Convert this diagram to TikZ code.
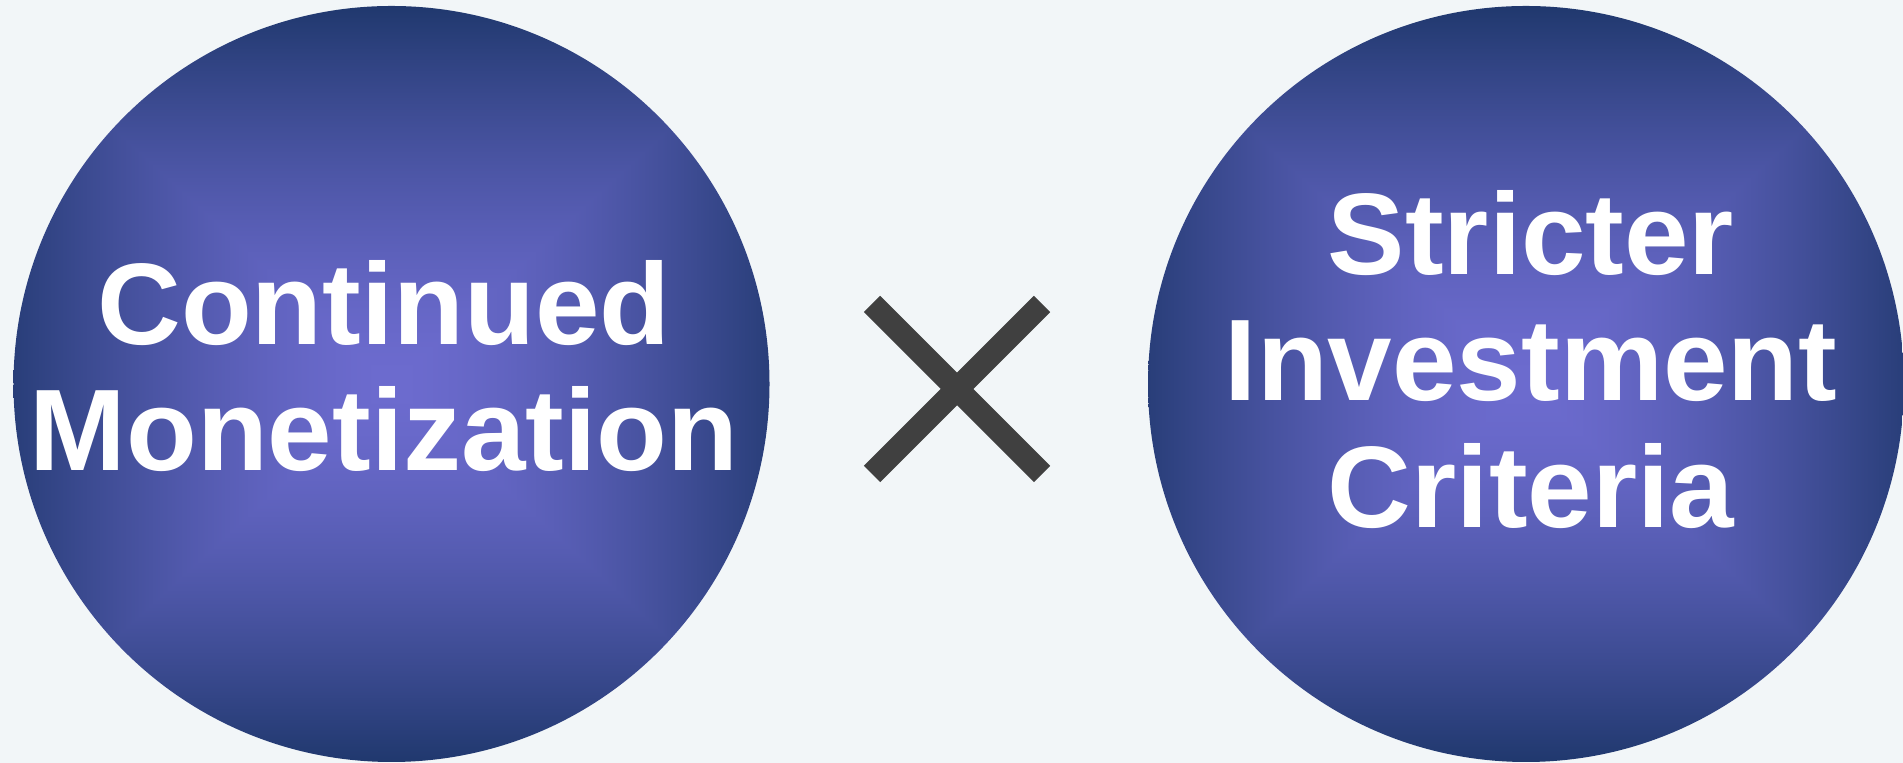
\documentclass[tikz,border=0pt]{standalone}
\usepackage{fontspec}
\setmainfont{Liberation Sans}
\definecolor{bgcol}{HTML}{F2F6F8}
\definecolor{crosscol}{HTML}{404040}
% square-shaped gradient, light purple in the middle, navy at the rim
\pgfdeclarefunctionalshading{ballshade}{\pgfpoint{-50bp}{-50bp}}{\pgfpoint{50bp}{50bp}}{}{
  exch abs 0.92 mul exch abs 2 copy lt {exch} if pop 25 div dup 1 gt {pop 1} if dup sqrt mul
  dup 0.30 mul neg 0.425 add exch
  dup 0.20 mul neg 0.42 add exch
  0.38 mul neg 0.81 add
}
\tikzset{
  ball/.style={circle, minimum size=7.56cm, inner sep=0pt, shade, shading=ballshade},
  balltext/.style={text=white, font=\bfseries\fontsize{33}{36}\selectfont, align=center, inner sep=0pt},
  crossline/.style={draw=crosscol, line width=0.23cm}
}
\begin{document}
\begin{tikzpicture}
    % Background
    \fill[bgcol] (0,0) rectangle (19.03,7.63);
    \useasboundingbox (0,0) rectangle (19.03,7.63);
    % Left circle
    \node[ball] (mon) at (3.915,3.79) {};
    \node[balltext] (montext) at (3.84,3.97) {Continued\\Monetization};
    % Right circle
    \node[ball] (crit) at (15.26,3.79) {};
    \node[balltext] (crittext) at (15.31,4.035) {Stricter\\Investment\\Criteria};
    % Times sign
    \coordinate (x) at (9.57,3.74);
    \draw[crossline] ([shift={(-0.85,0.85)}]x) -- ([shift={(0.85,-0.85)}]x);
    \draw[crossline] ([shift={(-0.85,-0.85)}]x) -- ([shift={(0.85,0.85)}]x);
\end{tikzpicture}
\end{document}
